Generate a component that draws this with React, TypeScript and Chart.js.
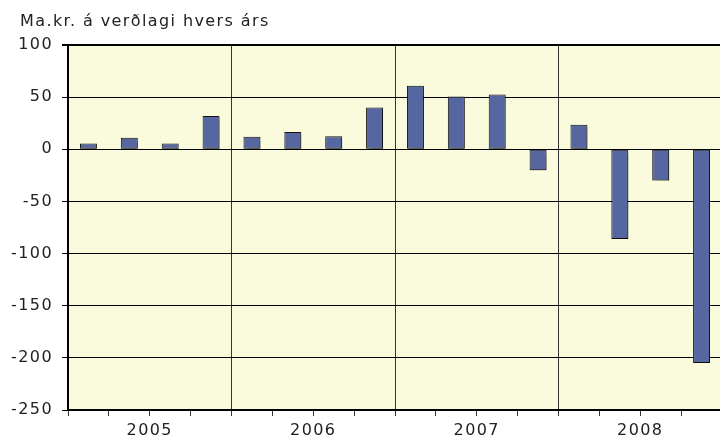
import React, { useEffect, useRef } from "react";
import { Chart, registerables } from "chart.js";

Chart.register(...registerables);

const quarters = [
  "2005 Q1", "2005 Q2", "2005 Q3", "2005 Q4",
  "2006 Q1", "2006 Q2", "2006 Q3", "2006 Q4",
  "2007 Q1", "2007 Q2", "2007 Q3", "2007 Q4",
  "2008 Q1", "2008 Q2", "2008 Q3", "2008 Q4",
];
const values = [5.5, 11, 5.5, 32, 12, 16.5, 12.5, 40, 61, 50.5, 52.5, -20, 23.5, -86, -30, -205];
const years = ["2005", "2006", "2007", "2008"];
const yTitle = "Ma.kr. á verðlagi hvers árs";

const FONT = "'DejaVu Sans', Verdana, sans-serif";
const SPACING = "1.4px";

const titlePlugin = {
  id: "unitTitle",
  afterDraw(chart: any) {
    const ctx = chart.ctx;
    ctx.save();
    ctx.font = `16px ${FONT}`;
    ctx.letterSpacing = SPACING;
    ctx.fillStyle = "#222";
    ctx.textAlign = "left";
    ctx.textBaseline = "alphabetic";
    ctx.fillText(yTitle, 20, 26);
    ctx.restore();
  },
};

const bgPlugin = {
  id: "plotBg",
  beforeDraw(chart: any) {
    const { ctx, chartArea } = chart;
    ctx.letterSpacing = SPACING;
    ctx.save();
    ctx.fillStyle = "#FAFADC";
    ctx.fillRect(chartArea.left, chartArea.top, chartArea.right - chartArea.left, chartArea.bottom - chartArea.top);
    ctx.restore();
  },
  beforeDatasetsDraw(chart: any) {
    const ctx = chart.ctx;
    ctx.save();
    ctx.shadowColor = "rgba(0,0,0,0.3)";
    ctx.shadowOffsetX = 1.5;
    ctx.shadowOffsetY = 1.5;
    ctx.shadowBlur = 1;
  },
  afterDatasetsDraw(chart: any) {
    chart.ctx.restore();
  },
};

export default function App() {
  const ref = useRef<HTMLCanvasElement | null>(null);
  useEffect(() => {
    if (!ref.current) return;
    const chart = new Chart(ref.current, {
      type: "bar",
      data: {
        labels: quarters,
        datasets: [
          {
            data: values,
            backgroundColor: "#5566A0",
            borderColor: "#111",
            borderWidth: 1,
            borderSkipped: false,
            categoryPercentage: 1,
            barPercentage: 0.415,
            xAxisID: "x",
          },
        ],
      },
      options: {
        animation: false,
        responsive: false,
        maintainAspectRatio: false,
        layout: { padding: { top: 45, left: 0, right: 0, bottom: 0 } },
        plugins: { legend: { display: false }, tooltip: { enabled: false }, title: { display: false } },
        scales: {
          x: {
            type: "category",
            position: "bottom",
            offset: true,
            grid: {
              offset: true,
              drawTicks: true,
              tickLength: 6,
              color: (c: any) => (c.index % 4 === 0 ? "#333" : "rgba(0,0,0,0)"),
              tickColor: "#333",
              lineWidth: 1,
            },
            border: { display: true, color: "#000", width: 2 },
            ticks: { display: false },
            afterFit: (s: any) => { s.height = 6; },
          },
          x2: {
            type: "category",
            position: "bottom",
            labels: years,
            offset: true,
            grid: { display: false },
            border: { display: false },
            ticks: { color: "#222", font: { family: FONT, size: 16 }, padding: -3, maxRotation: 0, autoSkip: false },
            afterFit: (s: any) => { s.height = 23; },
          },
          y: {
            min: -250,
            max: 100,
            ticks: {
              stepSize: 50,
              color: "#222",
              font: { family: FONT, size: 16 },
              padding: 9,
              callback: (v: any) => String(v),
            },
            grid: {
              color: "#000",
              tickColor: "#000",
              tickLength: 6,
              lineWidth: (c: any) => (c.tick && c.tick.value === 100 ? 2 : 1),
            },
            border: { display: true, color: "#000", width: 2 },
            afterFit: (s: any) => { s.width = 68; },
          },
        },
      },
      plugins: [bgPlugin, titlePlugin],
    });
    return () => chart.destroy();
  }, []);
  return (
    <div style={{ position: "fixed", left: 0, top: 0, width: 720, height: 439, overflow: "hidden", background: "#fff" }}>
      <canvas ref={ref} width={722} height={439} style={{ display: "block" }} />
    </div>
  );
}
